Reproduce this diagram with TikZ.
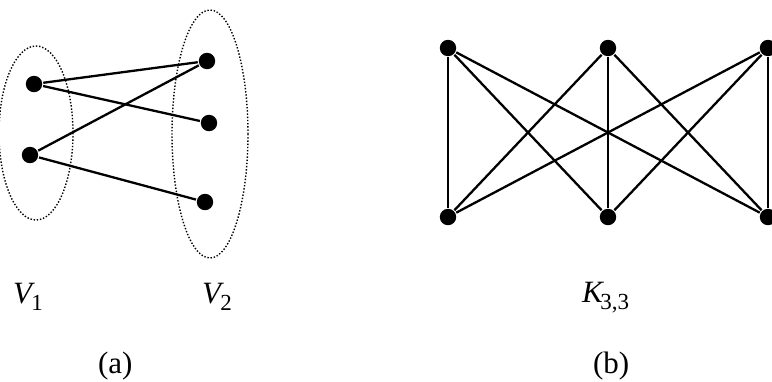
\documentclass[tikz,border=0pt]{standalone}
\usepackage{fontspec}
\setmainfont{Liberation Serif}
\usepackage{tikz}

\begin{document}
\begin{tikzpicture}[x=0.5pt,y=-0.5pt,line width=1.15pt,font=\fontsize{15.5}{18}\selectfont]
\tikzstyle{vtx}=[circle,fill=black,draw=none,inner sep=0pt,minimum size=8.2pt]
\tikzstyle{lbl}=[inner sep=0pt,anchor=base west]
\tikzstyle{setline}=[line width=0.7pt,dash pattern=on 0.7pt off 0.9pt]
\newcommand{\sbs}[1]{\kern-0.12em\raisebox{-0.25em}{\fontsize{11.5}{12}\selectfont #1}}
\useasboundingbox (0,0) rectangle (772,381);
% (a) bipartite graph
\node[vtx] (a1) at (34,84) {};
\node[vtx] (a2) at (30,155) {};
\node[vtx] (b1) at (207,61) {};
\node[vtx] (b2) at (209,123) {};
\node[vtx] (b3) at (205,202) {};
\draw[setline] (36,133) ellipse [x radius=37,y radius=87];
\draw[setline] (210,134) ellipse [x radius=38,y radius=124];
\foreach \u/\v in {a1/b1,a1/b2,a2/b1,a2/b3}
  \draw (\u) -- (\v);
\node[lbl] (v1) at (12,303) {\textit{V}\sbs{1}};
\node[lbl] (v2) at (201,303) {\textit{V}\sbs{2}};
\node[lbl] (capa) at (97,373) {(a)};
% (b) complete bipartite K33
\foreach \i/\x in {1/448,2/608,3/768} {
  \node[vtx] (t\i) at (\x,48) {};
  \node[vtx] (s\i) at (\x,217) {};
}
\foreach \i in {1,2,3}
  \foreach \j in {1,2,3}
    \draw (t\i) -- (s\j);
\node[lbl] (k33) at (581,302) {\textit{K}\sbs{3,3}};
\node[lbl] (capb) at (592,373) {(b)};
\end{tikzpicture}
\end{document}
